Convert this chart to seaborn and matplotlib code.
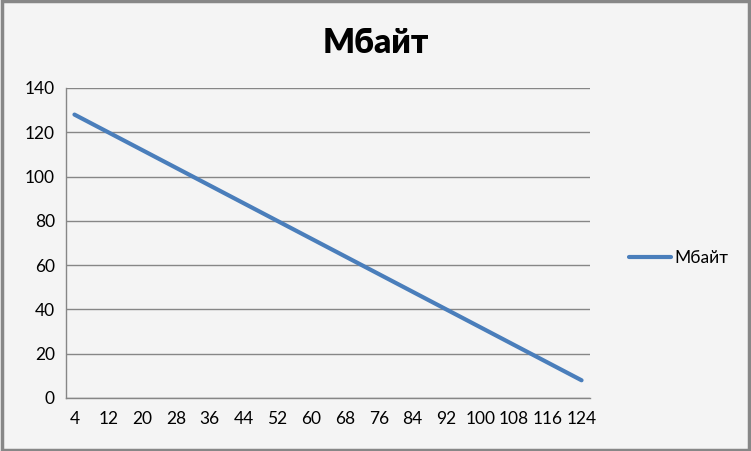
import numpy as np
import seaborn as sns
import matplotlib.pyplot as plt
from matplotlib.patches import Rectangle

# ---------------------------
# DATA
# ---------------------------
categories = [4, 8, 12, 16, 20, 24, 28, 32, 36, 40, 44, 48, 52, 56, 60, 64,
              68, 72, 76, 80, 84, 88, 92, 96, 100, 104, 108, 112, 116, 120, 124]
mbytes = [128, 124, 120, 116, 112, 108, 104, 100, 96, 92, 88, 84, 80, 76, 72, 68,
          64, 60, 56, 52, 48, 44, 40, 36, 32, 28, 24, 20, 16, 12, 8]
y_ticks = [0, 20, 40, 60, 80, 100, 120, 140]
series_name = "Мбайт"

# ---------------------------
# STYLE
# ---------------------------
sns.set_style("white")
plt.rcParams["font.family"] = ["Lato", "DejaVu Sans"]
plt.rcParams["text.color"] = "black"
plt.rcParams["xtick.color"] = "black"
plt.rcParams["ytick.color"] = "black"

bg = "#f4f4f4"
grid_col = "#868686"
line_col = "#4a7ebb"

fig = plt.figure(figsize=(7.51, 4.51), dpi=100, facecolor=bg)
ax = fig.add_axes([66 / 751, 53 / 451, 524 / 751, 310 / 451])
ax.set_facecolor(bg)

pos = np.arange(len(categories))
sns.lineplot(x=pos, y=mbytes, ax=ax, color=line_col, linewidth=3,
             label=series_name, legend=False)

# ---------------------------
# AXES
# ---------------------------
ax.set_xlim(-0.5, len(categories) - 0.5)
ax.set_ylim(0, 140)
ax.set_yticks(y_ticks)
ax.yaxis.grid(True, color=grid_col, linewidth=1)
ax.set_axisbelow(True)

ax.set_xticks(pos[::2])
ax.set_xticklabels([str(c) for c in categories[::2]])
ax.set_xticks(np.arange(-0.5, len(categories), 1), minor=True)
ax.tick_params(axis="x", which="major", length=0, pad=9, labelsize=12.5,
               labelcolor="black")
ax.tick_params(axis="x", which="minor", length=5, color=grid_col, width=1,
               direction="out")
ax.tick_params(axis="y", length=5, color=grid_col, width=1, direction="out",
               labelsize=12.5, pad=3, labelcolor="black")

for s in ["top", "right"]:
    ax.spines[s].set_visible(False)
for s in ["left", "bottom"]:
    ax.spines[s].set_color(grid_col)
    ax.spines[s].set_linewidth(1)

fig.text(0.5, 0.905, series_name, ha="center", va="center",
         fontsize=24, fontweight="heavy", color="black")

handles, labels = ax.get_legend_handles_labels()
fig.legend(handles, labels, loc="center left", bbox_to_anchor=(622 / 751, 1 - 258 / 451),
           frameon=False, fontsize=12.5, handlelength=2.4, handletextpad=0.2,
           borderaxespad=0, labelcolor="black")

# outer border
fig.patches.append(Rectangle((0.002, 0.003), 0.996, 0.994, transform=fig.transFigure,
                             fill=False, edgecolor="#878787", linewidth=2.5))

fig.savefig("out.png", dpi=100, facecolor=bg)
